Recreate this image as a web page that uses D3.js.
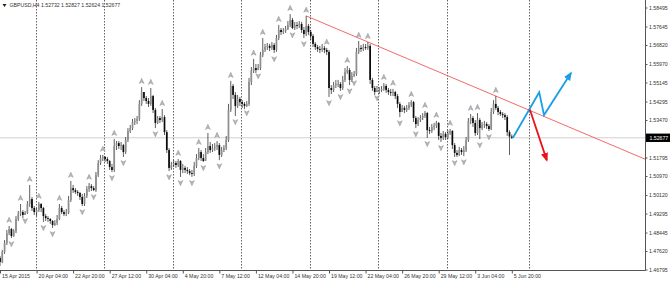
<!DOCTYPE html>
<html>
<head>
<meta charset="utf-8">
<script src="https://cdn.jsdelivr.net/npm/d3@7"></script>
<style>
  html, body { margin: 0; padding: 0; background: #fff; }
  svg { display: block; font-family: "Liberation Sans", Arial, sans-serif; }
</style>
</head>
<body>
<div id="chart"></div>
<script>
// GBPUSD H4, 15 Apr 2015 12:00 -> 5 Jun 2015 20:00 (one value per bar)
const symbol = "GBPUSD,H4";
const firstOpen = 1.4731;
const closes = [
  1.4713,1.4758,1.4798,1.4842,1.4860,1.4829,1.4851,1.4905,1.4927,1.4936,
  1.4923,1.4932,1.4972,1.4994,1.4954,1.4936,1.4945,1.4972,1.4954,1.4918,
  1.4909,1.4905,1.4896,1.4878,1.4887,1.4905,1.4954,1.4936,1.4927,1.4932,
  1.4990,1.5043,1.5034,1.5026,1.5021,1.5003,1.4972,1.5008,1.5039,1.5052,
  1.5043,1.5034,1.5101,1.5155,1.5177,1.5182,1.5173,1.5164,1.5137,1.5124,
  1.5231,1.5244,1.5231,1.5235,1.5204,1.5258,1.5298,1.5311,1.5338,1.5343,
  1.5352,1.5419,1.5472,1.5445,1.5432,1.5419,1.5454,1.5392,1.5334,1.5356,
  1.5347,1.5360,1.5293,1.5213,1.5133,1.5146,1.5155,1.5146,1.5164,1.5124,
  1.5133,1.5124,1.5119,1.5110,1.5106,1.5142,1.5177,1.5204,1.5177,1.5164,
  1.5204,1.5231,1.5213,1.5222,1.5227,1.5235,1.5191,1.5213,1.5222,1.5258,
  1.5392,1.5499,1.5459,1.5410,1.5441,1.5427,1.5419,1.5410,1.5419,1.5517,
  1.5566,1.5579,1.5570,1.5579,1.5637,1.5660,1.5673,1.5678,1.5669,1.5682,
  1.5660,1.5713,1.5749,1.5740,1.5745,1.5753,1.5771,1.5794,1.5758,1.5771,
  1.5767,1.5776,1.5749,1.5731,1.5767,1.5740,1.5722,1.5687,1.5673,1.5664,
  1.5660,1.5669,1.5660,1.5651,1.5490,1.5481,1.5503,1.5508,1.5508,1.5490,
  1.5526,1.5561,1.5570,1.5526,1.5544,1.5553,1.5651,1.5669,1.5664,1.5673,
  1.5669,1.5678,1.5526,1.5490,1.5472,1.5481,1.5481,1.5486,1.5499,1.5481,
  1.5472,1.5468,1.5472,1.5454,1.5419,1.5383,1.5401,1.5392,1.5401,1.5414,
  1.5427,1.5356,1.5329,1.5347,1.5356,1.5365,1.5378,1.5302,1.5298,1.5316,
  1.5320,1.5334,1.5276,1.5267,1.5285,1.5271,1.5289,1.5298,1.5235,1.5200,
  1.5191,1.5213,1.5204,1.5213,1.5258,1.5343,1.5356,1.5334,1.5289,1.5347,
  1.5311,1.5325,1.5329,1.5320,1.5307,1.5383,1.5419,1.5401,1.5383,1.5374,
  1.5369,1.5360,1.5293,1.52732,1.52677
];
const highs = [
  1.4740,1.4767,1.4811,1.4856,1.4874,1.4865,1.4860,1.4918,1.4941,1.4972,
  1.4945,1.4941,1.4985,1.5057,1.5003,1.4963,1.4954,1.4981,1.4976,1.4959,
  1.4927,1.4918,1.4909,1.4900,1.4900,1.4923,1.4972,1.4963,1.4945,1.4950,
  1.5008,1.5075,1.5057,1.5043,1.5034,1.5026,1.5017,1.5021,1.5052,1.5066,
  1.5061,1.5052,1.5115,1.5168,1.5191,1.5191,1.5186,1.5182,1.5168,1.5151,
  1.5262,1.5253,1.5253,1.5249,1.5240,1.5271,1.5311,1.5325,1.5352,1.5356,
  1.5365,1.5436,1.5494,1.5472,1.5454,1.5445,1.5490,1.5459,1.5401,1.5365,
  1.5365,1.5396,1.5369,1.5302,1.5222,1.5160,1.5168,1.5164,1.5173,1.5168,
  1.5151,1.5142,1.5137,1.5128,1.5124,1.5160,1.5195,1.5222,1.5213,1.5195,
  1.5222,1.5289,1.5249,1.5240,1.5244,1.5253,1.5244,1.5227,1.5235,1.5276,
  1.5419,1.5521,1.5508,1.5472,1.5459,1.5450,1.5436,1.5427,1.5432,1.5535,
  1.5584,1.5620,1.5597,1.5597,1.5651,1.5713,1.5687,1.5691,1.5687,1.5695,
  1.5691,1.5727,1.5771,1.5758,1.5758,1.5767,1.5789,1.5820,1.5803,1.5785,
  1.5785,1.5789,1.5785,1.5762,1.5812,1.5776,1.5749,1.5731,1.5695,1.5682,
  1.5678,1.5687,1.5678,1.5669,1.5660,1.5503,1.5517,1.5526,1.5526,1.5517,
  1.5544,1.5579,1.5588,1.5579,1.5561,1.5566,1.5669,1.5700,1.5682,1.5687,
  1.5687,1.5695,1.5687,1.5535,1.5499,1.5499,1.5494,1.5499,1.5512,1.5508,
  1.5490,1.5486,1.5486,1.5477,1.5463,1.5427,1.5414,1.5410,1.5414,1.5427,
  1.5436,1.5432,1.5365,1.5360,1.5369,1.5378,1.5387,1.5383,1.5316,1.5329,
  1.5334,1.5343,1.5338,1.5289,1.5298,1.5293,1.5302,1.5307,1.5302,1.5244,
  1.5213,1.5227,1.5222,1.5231,1.5271,1.5356,1.5374,1.5365,1.5347,1.5378,
  1.5356,1.5338,1.5343,1.5338,1.5329,1.5401,1.5436,1.5454,1.5410,1.5392,
  1.5383,1.5378,1.5369,1.5302,1.52827
];
const lows = [
  1.4695,1.4708,1.4749,1.4789,1.4833,1.4820,1.4825,1.4842,1.4896,1.4918,
  1.4909,1.4923,1.4927,1.4959,1.4941,1.4923,1.4918,1.4936,1.4936,1.4892,
  1.4896,1.4892,1.4883,1.4865,1.4874,1.4878,1.4900,1.4927,1.4918,1.4918,
  1.4927,1.4981,1.5021,1.5017,1.5008,1.4990,1.4963,1.4963,1.4999,1.5026,
  1.5030,1.5030,1.5026,1.5093,1.5146,1.5164,1.5160,1.5151,1.5124,1.5115,
  1.5115,1.5213,1.5218,1.5213,1.5182,1.5195,1.5249,1.5289,1.5302,1.5325,
  1.5329,1.5343,1.5410,1.5432,1.5419,1.5405,1.5410,1.5378,1.5311,1.5329,
  1.5334,1.5338,1.5280,1.5200,1.5119,1.5124,1.5137,1.5133,1.5137,1.5093,
  1.5110,1.5110,1.5106,1.5101,1.5093,1.5097,1.5133,1.5168,1.5164,1.5160,
  1.5168,1.5195,1.5200,1.5204,1.5209,1.5213,1.5168,1.5182,1.5204,1.5213,
  1.5249,1.5383,1.5441,1.5365,1.5401,1.5410,1.5401,1.5396,1.5405,1.5410,
  1.5503,1.5557,1.5557,1.5570,1.5570,1.5628,1.5651,1.5660,1.5655,1.5660,
  1.5646,1.5651,1.5704,1.5727,1.5731,1.5736,1.5749,1.5762,1.5753,1.5749,
  1.5753,1.5758,1.5736,1.5713,1.5722,1.5727,1.5704,1.5673,1.5660,1.5651,
  1.5646,1.5651,1.5646,1.5637,1.5450,1.5463,1.5472,1.5490,1.5494,1.5477,
  1.5481,1.5517,1.5553,1.5503,1.5517,1.5539,1.5544,1.5642,1.5651,1.5655,
  1.5660,1.5660,1.5508,1.5477,1.5459,1.5472,1.5463,1.5472,1.5477,1.5468,
  1.5459,1.5454,1.5454,1.5441,1.5401,1.5360,1.5383,1.5378,1.5383,1.5392,
  1.5405,1.5338,1.5311,1.5320,1.5338,1.5347,1.5356,1.5267,1.5285,1.5289,
  1.5302,1.5311,1.5258,1.5249,1.5258,1.5258,1.5262,1.5280,1.5218,1.5182,
  1.5182,1.5186,1.5191,1.5186,1.5204,1.5249,1.5329,1.5316,1.5276,1.5280,
  1.5262,1.5302,1.5311,1.5307,1.5298,1.5302,1.5374,1.5392,1.5369,1.5365,
  1.5356,1.5347,1.5276,1.5191,1.52624
];

// bars carrying a Bill Williams fractal
const fractalUp = [4, 9, 13, 17, 26, 31, 39, 45, 50, 62, 66, 71, 78, 87, 91, 95, 101, 111, 115,
  122, 127, 134, 143, 152, 157, 161, 168, 172, 180, 186, 191, 197, 206, 209, 217];
const fractalDown = [5, 11, 19, 23, 36, 41, 49, 54, 68, 74, 79, 84, 89, 96, 103, 108, 113, 120,
  128, 133, 144, 149, 153, 155, 165, 175, 182, 187, 193, 199, 203, 210, 214];

// axis labels
const timeTickBars = [0, 16, 32, 48, 64, 80, 96, 112, 128, 144, 160, 176, 192, 208, 224];
const timeTickLabels = ["15 Apr 2015", "20 Apr 04:00", "22 Apr 20:00", "27 Apr 12:00", "30 Apr 04:00",
  "4 May 20:00", "7 May 12:00", "12 May 04:00", "14 May 20:00", "19 May 12:00", "22 May 04:00",
  "26 May 20:00", "29 May 12:00", "3 Jun 04:00", "5 Jun 20:00"];
const priceTicks = [1.58495, 1.57645, 1.56820, 1.55970, 1.55145, 1.54295, 1.53470,
  1.51795, 1.50970, 1.50120, 1.49295, 1.48445, 1.47620, 1.46795];
const weekGridBars = [15.8, 45.6, 75.6, 105.6, 135.5, 165.5, 195.5, 231.5];

// trendline through two swing highs, and the drawn projections
const trendBars = [134, 217];
const projUpBars = [224.5, 236, 238.1, 249.9];
const projUpPrices = [1.5268, 1.5471, 1.5369, 1.5557];
const projDownBars = [231.9, 239.3];
const projDownPrices = [1.5394, 1.5168];

const width = 670, height = 282;
const plotRight = 645, plotBottom = 270;
const fontSize = 5.2;

const opens = [firstOpen].concat(closes.slice(0, -1));
const bars = closes.map((c, i) => ({ i, o: opens[i], h: highs[i], l: lows[i], c }));
const last = bars[bars.length - 1];

const x = d3.scaleLinear().domain([0, 282.3]).range([0, plotRight]);
const y = d3.scaleLinear().domain([1.46795, 1.58495]).range([269.5, 7.5]);

const svg = d3.select("#chart").append("svg")
  .attr("width", width)
  .attr("height", height)
  .attr("viewBox", `0 0 ${width} ${height}`);

svg.append("rect").attr("width", width).attr("height", height).attr("fill", "#fff");

const defs = svg.append("defs");
function arrowMarker(id, color) {
  defs.append("marker")
    .attr("id", id)
    .attr("markerUnits", "userSpaceOnUse")
    .attr("viewBox", "0 -5 10 10")
    .attr("refX", 8)
    .attr("refY", 0)
    .attr("markerWidth", 9)
    .attr("markerHeight", 9)
    .attr("orient", "auto")
    .append("path")
    .attr("d", "M0,-4L10,0L0,4Z")
    .attr("fill", color);
}
arrowMarker("arrowBlue", "#1a9fe6");
arrowMarker("arrowRed", "#e8141c");

// weekly separators
svg.append("g")
  .selectAll("line")
  .data(weekGridBars)
  .join("line")
  .attr("x1", d => Math.round(x(d)) + 0.5)
  .attr("x2", d => Math.round(x(d)) + 0.5)
  .attr("y1", 0)
  .attr("y2", plotBottom)
  .attr("stroke", "#3a3a3a")
  .attr("stroke-width", 0.8)
  .attr("stroke-dasharray", "1.5,1.5");

// current price line
svg.append("line")
  .attr("x1", 0).attr("x2", plotRight)
  .attr("y1", y(last.c)).attr("y2", y(last.c))
  .attr("stroke", "#c4c4c4")
  .attr("stroke-width", 0.8);

// trendline, extended to the right edge
const t0 = trendBars[0], t1 = trendBars[1];
const slope = (highs[t1] - highs[t0]) / (t1 - t0);
const tEnd = x.domain()[1];
svg.append("line")
  .attr("x1", x(t0)).attr("y1", y(highs[t0]))
  .attr("x2", x(tEnd)).attr("y2", y(highs[t0] + slope * (tEnd - t0)))
  .attr("stroke", "#f05a5a")
  .attr("stroke-width", 0.9);

// candles
const candles = svg.append("g");
candles.selectAll("line")
  .data(bars)
  .join("line")
  .attr("x1", d => x(d.i)).attr("x2", d => x(d.i))
  .attr("y1", d => y(d.h)).attr("y2", d => y(d.l))
  .attr("stroke", "#1a1a1a")
  .attr("stroke-width", 0.7);
candles.selectAll("rect")
  .data(bars)
  .join("rect")
  .attr("x", d => x(d.i) - 0.85)
  .attr("width", 1.7)
  .attr("y", d => y(Math.max(d.o, d.c)))
  .attr("height", d => Math.max(0.7, Math.abs(y(d.o) - y(d.c))))
  .attr("fill", d => d.c >= d.o ? "#8e8e8e" : "#0a0a0a");

// fractal arrows
const upGlyph = "M0,-2.8L2.4,2.4L0,1.1L-2.4,2.4Z";
const downGlyph = "M0,2.8L2.4,-2.4L0,-1.1L-2.4,-2.4Z";
svg.append("g")
  .selectAll("path")
  .data(fractalUp)
  .join("path")
  .attr("transform", i => `translate(${x(i)},${y(highs[i]) - 6})`)
  .attr("d", upGlyph)
  .attr("fill", "#b4b8bf")
  .attr("stroke", "#7c8088")
  .attr("stroke-width", 0.4);
svg.append("g")
  .selectAll("path")
  .data(fractalDown)
  .join("path")
  .attr("transform", i => `translate(${x(i)},${y(lows[i]) + 6})`)
  .attr("d", downGlyph)
  .attr("fill", "#b4b8bf")
  .attr("stroke", "#7c8088")
  .attr("stroke-width", 0.4);

// projections
const proj = d3.line().x(d => x(d[0])).y(d => y(d[1]));
svg.append("path")
  .attr("d", proj(d3.zip(projUpBars, projUpPrices)))
  .attr("fill", "none")
  .attr("stroke", "#1a9fe6")
  .attr("stroke-width", 1.8)
  .attr("stroke-linejoin", "miter")
  .attr("marker-end", "url(#arrowBlue)");
svg.append("path")
  .attr("d", proj(d3.zip(projDownBars, projDownPrices)))
  .attr("fill", "none")
  .attr("stroke", "#e8141c")
  .attr("stroke-width", 1.8)
  .attr("marker-end", "url(#arrowRed)");

// frame lines
svg.append("line")
  .attr("x1", plotRight + 0.5).attr("x2", plotRight + 0.5)
  .attr("y1", 0).attr("y2", plotBottom + 0.5)
  .attr("stroke", "#555").attr("stroke-width", 1);
svg.append("line")
  .attr("x1", 0).attr("x2", plotRight + 0.5)
  .attr("y1", plotBottom + 0.5).attr("y2", plotBottom + 0.5)
  .attr("stroke", "#555").attr("stroke-width", 1);

// price axis
svg.append("g")
  .attr("transform", `translate(${plotRight + 0.5},0)`)
  .call(d3.axisRight(y).tickValues(priceTicks).tickSize(2).tickPadding(1.5)
    .tickFormat(d3.format(".5f")))
  .call(g => g.select(".domain").remove())
  .call(g => g.selectAll("line").attr("stroke", "#555"))
  .call(g => g.selectAll("text")
    .attr("font-size", fontSize)
    .attr("font-family", "'Liberation Sans', Arial, sans-serif")
    .attr("fill", "#333"));

// time axis
svg.append("g")
  .attr("transform", `translate(0,${plotBottom + 0.5})`)
  .call(d3.axisBottom(x).tickValues(timeTickBars).tickSize(3).tickPadding(1)
    .tickFormat((d, i) => timeTickLabels[i]))
  .call(g => g.select(".domain").remove())
  .call(g => g.selectAll("line").attr("stroke", "#555"))
  .call(g => g.selectAll("text")
    .attr("text-anchor", "start")
    .attr("x", 1.5)
    .attr("font-size", fontSize)
    .attr("font-family", "'Liberation Sans', Arial, sans-serif")
    .attr("fill", "#333"));

// current price tag
const tag = svg.append("g").attr("transform", `translate(${plotRight + 1},${y(last.c)})`);
tag.append("rect").attr("x", 0).attr("y", -4.2).attr("width", 25).attr("height", 8.4).attr("fill", "#000");
tag.append("text")
  .attr("x", 3.5).attr("y", 0).attr("dy", "0.35em")
  .attr("font-size", fontSize)
  .attr("fill", "#fff")
  .text(d3.format(".5f")(last.c));

// header
svg.append("path").attr("d", "M2.5,4L6.5,4L4.5,7Z").attr("fill", "#222");
svg.append("text")
  .attr("x", 9.5).attr("y", 7.2)
  .attr("font-size", fontSize)
  .attr("fill", "#333")
  .text(`${symbol} ${[last.o, last.h, last.l, last.c].map(d3.format(".5f")).join(" ")}`);
</script>
</body>
</html>
